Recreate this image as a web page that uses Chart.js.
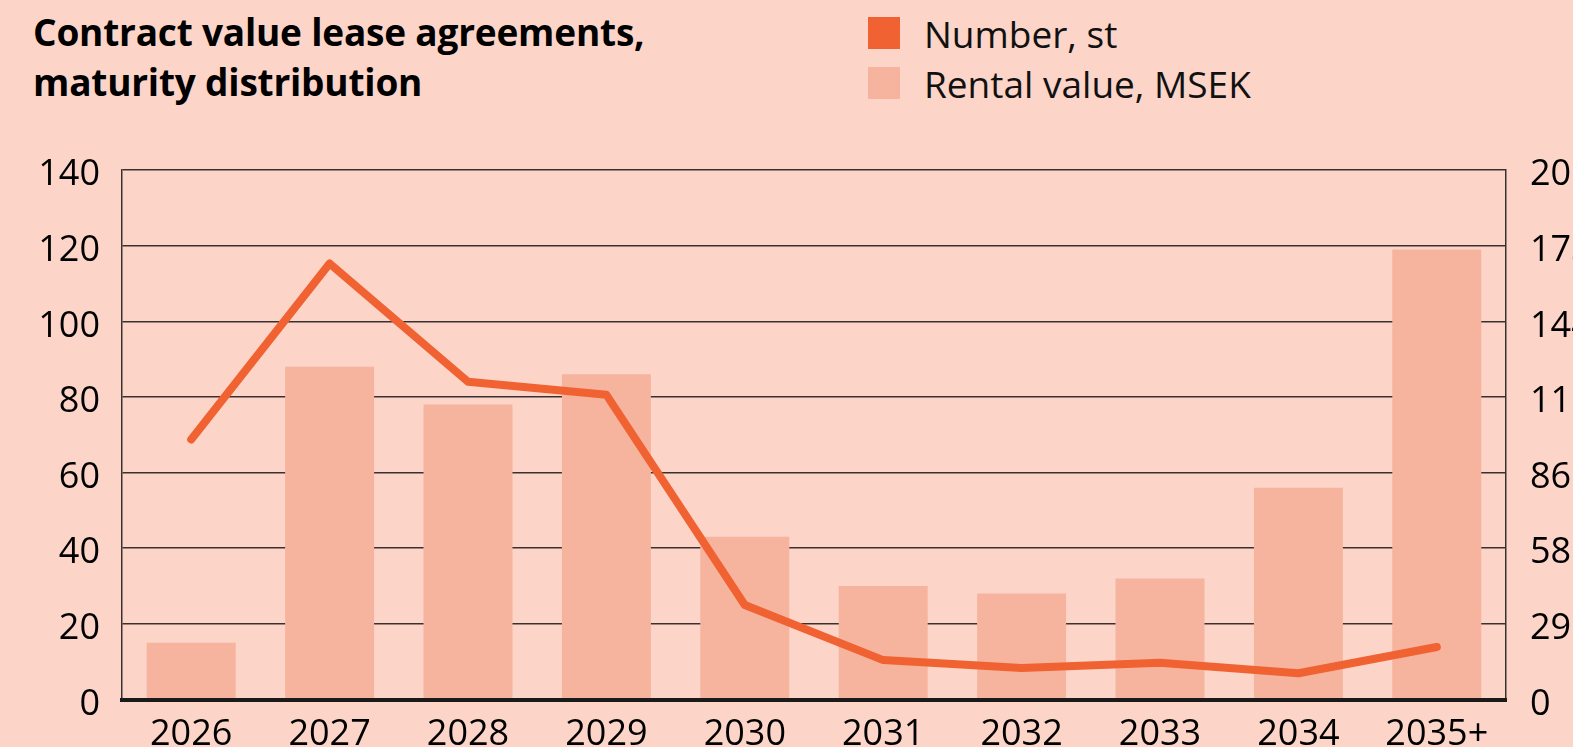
<!DOCTYPE html>
<html>
<head>
<meta charset="utf-8">
<script src="https://cdn.jsdelivr.net/npm/chart.js@4"></script>
<style>
  html, body { margin: 0; padding: 0; }
  body { width: 1573px; height: 747px; overflow: hidden; background: #FCD5C8; position: relative; font-family: "Open Sans", sans-serif; }
  #title { position: absolute; left: 33px; top: 7px; font-weight: bold; font-size: 37px; line-height: 50px; color: #000; letter-spacing: -0.2px; }
  #legend { position: absolute; left: 868px; top: 9px; }
  .item { position: relative; height: 50px; font-size: 37px; line-height: 50px; color: #111; }
  .box { position: absolute; left: 0; top: 8px; width: 32px; height: 32px; }
  .item span { position: absolute; left: 56px; white-space: nowrap; }
  #myChart { position: absolute; left: 0; top: 0; }
</style>
</head>
<body>
<div id="title">Contract value lease agreements,<br>maturity distribution</div>
<div id="legend"></div>
<canvas id="myChart" width="1600" height="770"></canvas>
<script>
// maturity years
var years = ["2026", "2027", "2028", "2029", "2030", "2031", "2032", "2033", "2034", "2035+"];
// Rental value, MSEK (left axis)
var rentalValue = [15, 88, 78, 86, 43, 30, 28, 32, 56, 119];
// Number of contracts, st (right axis)
var numberSt = [99, 166, 121, 116, 36, 15, 12, 14, 10, 20];
// right axis tick values (shown rounded)
var rightTicks = [0, 28.8, 57.6, 86.4, 115.2, 144, 172.8, 201.6];

var lineColor = "#F16232";
var barColor = "#F6B49E";
var gridColor = "#3a3030";

// html legend
var legendItems = [["Number, st", lineColor], ["Rental value, MSEK", barColor]];
var legend = document.getElementById("legend");
legendItems.forEach(function (it) {
  var d = document.createElement("div");
  d.className = "item";
  d.innerHTML = '<div class="box" style="background:' + it[1] + '"></div><span>' + it[0] + '</span>';
  legend.appendChild(d);
});

var tickFont = { family: "Open Sans", size: 36 };

new Chart("myChart", {
  type: "bar",
  data: {
    labels: years,
    datasets: [{
      type: "line",
      label: "Number, st",
      data: numberSt,
      yAxisID: "y2",
      borderColor: lineColor,
      backgroundColor: lineColor,
      borderWidth: 8,
      borderCapStyle: "round",
      borderJoinStyle: "round",
      pointRadius: 0,
      tension: 0
    }, {
      label: "Rental value, MSEK",
      data: rentalValue,
      yAxisID: "y",
      backgroundColor: barColor,
      barPercentage: 0.643,
      categoryPercentage: 1
    }]
  },
  options: {
    responsive: false,
    animation: false,
    layout: { padding: { top: 170, left: 0, right: 0, bottom: 0 } },
    plugins: { legend: { display: false }, tooltip: { enabled: false } },
    scales: {
      x: {
        grid: { display: false },
        border: { display: true, color: "#1a1a1a", width: 4, z: 1 },
        ticks: { color: "#000", font: tickFont, padding: 6, maxRotation: 0 },
        afterFit: function (s) { s.height = 70.5; }
      },
      y: {
        position: "left",
        min: 0, max: 140,
        ticks: { stepSize: 20, color: "#000", font: tickFont, padding: 22, labelOffset: 5 },
        grid: { color: gridColor, lineWidth: 1.5, drawTicks: false },
        border: { color: gridColor, width: 1.5 },
        afterFit: function (s) { s.width = 122; }
      },
      y2: {
        position: "right",
        min: 0, max: 201.6,
        afterBuildTicks: function (s) { s.ticks = rightTicks.map(function (v) { return { value: v }; }); },
        ticks: {
          color: "#000", font: tickFont, padding: 24, labelOffset: 5,
          callback: function (v) { return Math.round(v); }
        },
        grid: { display: false, drawTicks: false },
        border: { color: gridColor, width: 1.5 },
        afterFit: function (s) { s.width = 94; }
      }
    }
  }
});
</script>
</body>
</html>
